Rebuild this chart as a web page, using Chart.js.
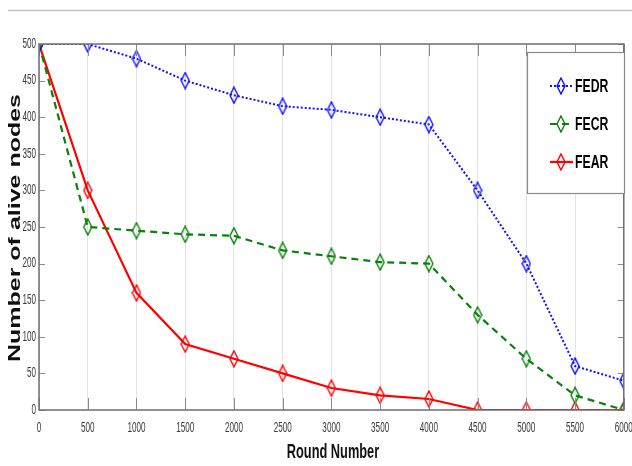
<!DOCTYPE html>
<html>
<head>
<meta charset="utf-8">
<script src="https://cdn.jsdelivr.net/npm/chart.js@4/dist/chart.umd.min.js"></script>
<style>
  html, body { margin: 0; padding: 0; background: #fff; }
  #wrap { width: 632px; height: 466px; }
</style>
</head>
<body>
<div id="wrap"><canvas id="c" width="632" height="466"></canvas></div>
<script>
var rounds = [0, 500, 1000, 1500, 2000, 2500, 3000, 3500, 4000, 4500, 5000, 5500, 6000]
var fedr = [500, 500, 480, 450, 430, 415, 410, 400, 390, 300, 200, 60, 40]
var fecr = [500, 250, 245, 240, 238, 218, 210, 202, 200, 130, 70, 20, 0]
var fear = [500, 300, 160, 90, 70, 50, 30, 20, 15, 0, 0, 0, 0]
var yTicks = [0, 50, 100, 150, 200, 250, 300, 350, 400, 450, 500]

var sans = '"Liberation Sans", Arial, sans-serif'

// tall matlab-like diamond marker
function diamond(color) {
	var cv = document.createElement('canvas')
	cv.width = 10
	cv.height = 18
	var g = cv.getContext('2d')
	g.strokeStyle = color
	g.lineWidth = 1.4
	g.beginPath()
	g.moveTo(5, 1)
	g.lineTo(9, 9)
	g.lineTo(5, 17)
	g.lineTo(1, 9)
	g.closePath()
	g.stroke()
	return cv
}

// text squeezed horizontally (condensed look)
function squeezed(ctx, text, x, y, sx, align) {
	ctx.save()
	ctx.translate(x, y)
	ctx.scale(sx, 1)
	ctx.textAlign = align
	ctx.fillText(text, 0, 0)
	ctx.restore()
}

var series = [
	{ label: 'FEDR', data: fedr, color: '#1010ff', dash: [2, 2], width: 2 },
	{ label: 'FECR', data: fecr, color: '#0a800a', dash: [7, 5], width: 2.2 },
	{ label: 'FEAR', data: fear, color: '#ff0000', dash: [], width: 2.2 },
]

var datasets = series.map(function(s) {
	return {
		label: s.label,
		data: rounds.map(function(r, i) { return { x: r, y: s.data[i] } }),
		borderColor: s.color,
		borderWidth: s.width,
		borderDash: s.dash,
		pointStyle: diamond(s.color),
		pointRadius: 6,
		tension: 0,
		fill: false,
	}
})

// frame, inner ticks, tick labels, top rule, axis titles and legend box
var decor = {
	id: 'decor',
	beforeDraw: function(chart) {
		var ctx = chart.ctx
		ctx.save()
		ctx.strokeStyle = '#c4c4c4'
		ctx.lineWidth = 1.5
		ctx.beginPath()
		ctx.moveTo(8, 10.5)
		ctx.lineTo(632, 10.5)
		ctx.stroke()
		ctx.restore()
	},
	afterDatasetsDraw: function(chart) {
		var ctx = chart.ctx
		var a = chart.chartArea
		var xs = chart.scales.x
		var ys = chart.scales.y
		ctx.save()
		ctx.strokeStyle = '#8a8a8a'
		ctx.lineWidth = 1
		rounds.forEach(function(r) {
			var px = Math.round(xs.getPixelForValue(r)) + 0.5
			ctx.beginPath()
			ctx.moveTo(px, a.bottom)
			ctx.lineTo(px, a.bottom - 12)
			ctx.moveTo(px, a.top)
			ctx.lineTo(px, a.top + 12)
			ctx.stroke()
		})
		yTicks.forEach(function(v) {
			var py = Math.round(ys.getPixelForValue(v)) + 0.5
			ctx.beginPath()
			ctx.moveTo(a.left, py)
			ctx.lineTo(a.left + 6, py)
			ctx.moveTo(a.right, py)
			ctx.lineTo(a.right - 6, py)
			ctx.stroke()
		})
		ctx.strokeStyle = '#6e6e6e'
		ctx.lineWidth = 1.5
		ctx.strokeRect(a.left, a.top, a.right - a.left, a.bottom - a.top)

		// tick labels
		ctx.fillStyle = '#3a3a3a'
		ctx.font = '14px ' + sans
		ctx.textBaseline = 'middle'
		rounds.forEach(function(r) {
			squeezed(ctx, String(r), xs.getPixelForValue(r), a.bottom + 18, 0.58, 'center')
		})
		yTicks.forEach(function(v) {
			squeezed(ctx, String(v), a.left - 3, ys.getPixelForValue(v), 0.58, 'right')
		})

		// legend
		var lx = 527, ly = 52, lw = 97, lh = 141
		ctx.fillStyle = '#fff'
		ctx.fillRect(lx, ly, lw, lh)
		ctx.strokeStyle = '#8a8a8a'
		ctx.lineWidth = 1.2
		ctx.strokeRect(lx + 0.5, ly + 0.5, lw, lh)
		var rows = [86, 124, 162]
		series.forEach(function(s, i) {
			var y = rows[i]
			ctx.strokeStyle = s.color
			ctx.lineWidth = s.width
			ctx.setLineDash(s.dash)
			ctx.beginPath()
			ctx.moveTo(550, y)
			ctx.lineTo(573, y)
			ctx.stroke()
			ctx.setLineDash([])
			ctx.drawImage(diamond(s.color), 556, y - 9)
			ctx.fillStyle = '#000'
			ctx.font = 'bold 18px ' + sans
			squeezed(ctx, s.label, 575, y + 1, 0.68, 'left')
		})

		// y title, stretched wide
		ctx.fillStyle = '#111'
		ctx.font = 'bold 17px ' + sans
		ctx.textAlign = 'center'
		var t = 'Number of alive nodes'
		var w = ctx.measureText(t).width
		ctx.save()
		ctx.translate(15, 228)
		ctx.rotate(-Math.PI / 2)
		ctx.scale(268 / w, 1)
		ctx.fillText(t, 0, 0)
		ctx.restore()

		ctx.font = 'bold 20px ' + sans
		ctx.fillStyle = '#111'
		squeezed(ctx, 'Round Number', 333, 452, 0.64, 'center')
		ctx.restore()
	}
}

new Chart(document.getElementById('c'), {
	type: 'line',
	data: { datasets: datasets },
	plugins: [decor],
	options: {
		responsive: false,
		animation: false,
		layout: { padding: { top: 44, right: 5, left: 0, bottom: 0 } },
		plugins: { legend: { display: false }, tooltip: { enabled: false } },
		scales: {
			x: {
				type: 'linear',
				min: 0,
				max: 6000,
				afterFit: function(s) {
					s.height = 56
					s.paddingLeft = 0
					s.paddingRight = 0
				},
				afterBuildTicks: function(s) { s.ticks = rounds.map(function(v) { return { value: v } }) },
				ticks: { display: false },
				grid: { color: '#e3e3e3', tickLength: 0 },
				border: { display: false },
			},
			y: {
				min: 0,
				max: 500,
				afterFit: function(s) {
					s.width = 39
					s.paddingTop = 0
					s.paddingBottom = 0
				},
				afterBuildTicks: function(s) { s.ticks = yTicks.map(function(v) { return { value: v } }) },
				ticks: { display: false },
				grid: { display: false },
				border: { display: false },
			}
		}
	}
})
</script>
</body>
</html>
